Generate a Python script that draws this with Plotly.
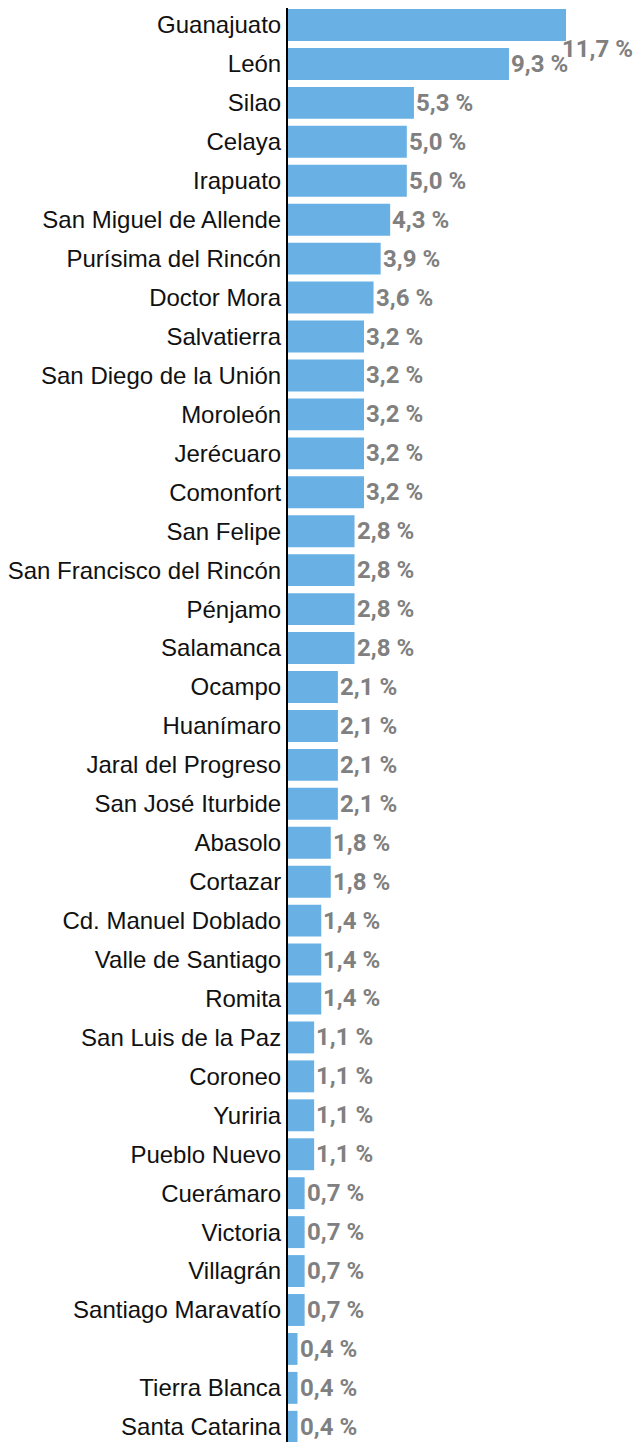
import plotly.graph_objects as go

municipios = ["Guanajuato", "León", "Silao", "Celaya", "Irapuato", "San Miguel de Allende",
              "Purísima del Rincón", "Doctor Mora", "Salvatierra", "San Diego de la Unión",
              "Moroleón", "Jerécuaro", "Comonfort", "San Felipe", "San Francisco del Rincón",
              "Pénjamo", "Salamanca", "Ocampo", "Huanímaro", "Jaral del Progreso",
              "San José Iturbide", "Abasolo", "Cortazar", "Cd. Manuel Doblado",
              "Valle de Santiago", "Romita", "San Luis de la Paz", "Coroneo", "Yuriria",
              "Pueblo Nuevo", "Cuerámaro", "Victoria", "Villagrán", "Santiago Maravatío",
              " ", "Tierra Blanca", "Santa Catarina"]
valores = [11.7, 9.3, 5.3, 5.0, 5.0, 4.3, 3.9, 3.6, 3.2, 3.2, 3.2, 3.2, 3.2, 2.8, 2.8, 2.8, 2.8,
           2.1, 2.1, 2.1, 2.1, 1.8, 1.8, 1.4, 1.4, 1.4, 1.1, 1.1, 1.1, 1.1, 0.7, 0.7, 0.7, 0.7,
           0.4, 0.4, 0.4]
etiquetas = [f"{v:.1f}".replace(".", ",") + " %" for v in valores]

fig = go.Figure(go.Bar(
    x=valores, y=municipios, orientation="h",
    marker=dict(color="#69b1e5", line=dict(width=0)),
    hoverinfo="skip",
))

for i, (m, v, t) in enumerate(zip(municipios, valores, etiquetas)):
    fig.add_annotation(
        x=v, y=m, text=f"<b>{t}</b>", showarrow=False,
        xanchor="left", yanchor="middle", xshift=-5 if i == 0 else 1,
        yshift=-24 if i == 0 else 0, borderpad=0,
        font=dict(family="Roboto", size=24, color="#808080"),
    )

fig.update_layout(
    width=636, height=1434,
    margin=dict(l=280, r=78, t=0, b=0, autoexpand=False),
    plot_bgcolor="white", paper_bgcolor="white",
    bargap=0.18,
    showlegend=False,
    xaxis=dict(range=[0, 11.7], visible=False, fixedrange=True),
    yaxis=dict(range=[36.39, -0.437], automargin=False, showline=True, linecolor="black",
               linewidth=2, ticks="", showgrid=False, ticklabelstandoff=0,
               categoryorder="array", categoryarray=municipios,
               tickfont=dict(family="Liberation Sans", size=24, color="#111111")),
)

fig.write_html("out.html")
